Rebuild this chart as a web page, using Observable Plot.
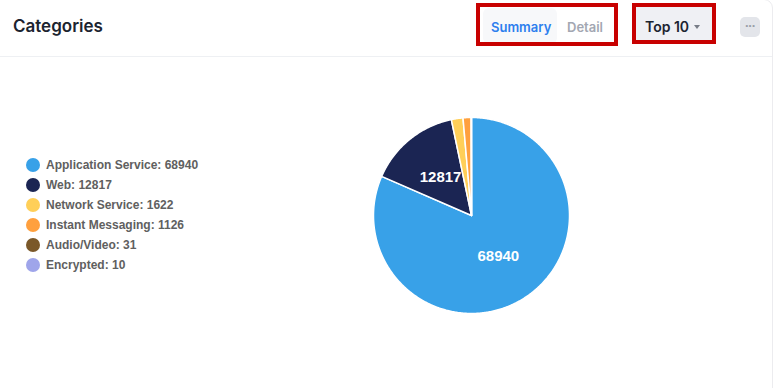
<!DOCTYPE html>
<html>
<head>
<meta charset="utf-8">
<script src="https://cdn.jsdelivr.net/npm/d3@7"></script>
<script src="https://cdn.jsdelivr.net/npm/@observablehq/plot@0.6"></script>
<style>
  html, body { margin: 0; padding: 0; background: #fff; width: 783px; height: 388px; overflow: hidden; }
  .card { position: absolute; left: -10px; top: -1px; width: 783px; height: 420px; border: 1px solid #ececef; border-radius: 9px; background: #fff; box-sizing: border-box; }
  .title { position: absolute; left: 13px; top: 16px; font: 600 17px Inter, sans-serif; color: #1c2430; }
  .hline { position: absolute; left: 0; top: 56px; width: 772px; height: 1px; background: #eef0f3; }
  .seg { position: absolute; left: 480px; top: 7px; width: 134px; height: 35px; background: #fff; }
  .seg .on { position: absolute; left: 3px; top: 1px; width: 74px; height: 36px; background: #f7f8fa; border-radius: 6px; }
  .seg span { position: absolute; top: 12px; font: 600 13px Inter, sans-serif; }
  .top10 { position: absolute; left: 634px; top: 5px; width: 80px; height: 38px; background: #eff0f4; }
  .top10 span { position: absolute; left: 11px; top: 13px; font: 600 14px Inter, sans-serif; color: #1c2430; }
  .caret { position: absolute; left: 60px; top: 20px; width: 0; height: 0; border-left: 3.5px solid transparent; border-right: 3.5px solid transparent; border-top: 4px solid #777c86; }
  .redbox { position: absolute; border: 4px solid #c80000; box-sizing: border-box; }
  .more { position: absolute; left: 740px; top: 17px; width: 20px; height: 20px; background: #e3e5ea; border-radius: 5px; color: #9a9fa8; font: 700 13px sans-serif; text-align: center; line-height: 18px; letter-spacing: -1px; }
  .legend { position: absolute; left: 26px; top: 155px; }
  .legend div { height: 20px; display: flex; align-items: center; font: bold 12px "Liberation Sans", Arial, sans-serif; color: #606060; }
  .legend i { display: inline-block; width: 14px; height: 14px; border-radius: 50%; margin-right: 6px; }
  #pie { position: absolute; left: 371px; top: 115px; }
</style>
</head>
<body>
<div class="card"></div>
<div class="title">Categories</div>
<div class="hline"></div>
<div class="seg"><div class="on"></div><span style="left:11px;color:#2d7fee">Summary</span><span style="left:87px;color:#a3a7b2">Detail</span></div>
<div class="redbox" style="left:476px;top:3px;width:142px;height:43px"></div>
<div class="top10"><span>Top 10</span><div class="caret"></div></div>
<div class="redbox" style="left:632px;top:3px;width:84px;height:41px"></div>
<div class="more">···</div>
<div class="legend" id="legend"></div>
<div id="pie"></div>
<script>
// Traffic categories and their session counts
const categories = ["Application Service", "Web", "Network Service", "Instant Messaging", "Audio/Video", "Encrypted"];
const counts = [68940, 12817, 1622, 1126, 31, 10];
const colors = ["#38a1e8", "#1b2553", "#ffcf58", "#ffa03e", "#7a5829", "#9fa5ea"];
// Only the two largest slices carry an inner value label
const labelled = ["Application Service", "Web"];

// Legend
const legend = document.getElementById("legend");
categories.forEach((c, i) => {
  const row = document.createElement("div");
  row.innerHTML = `<i style="background:${colors[i]}"></i>${c}: ${counts[i]}`;
  legend.appendChild(row);
});

// Slice geometry: angles run clockwise from 12 o'clock
const data = categories.map((c, i) => ({category: c, value: counts[i]}));
const arcs = d3.pie().sort(null).value(d => d.value)(data);
const outline = [];
const labels = [];
for (const a of arcs) {
  const c = a.data.category;
  const steps = Math.max(2, Math.ceil((a.endAngle - a.startAngle) / 0.01));
  outline.push({category: c, x: 0, y: 0});
  for (let k = 0; k <= steps; k++) {
    const t = a.startAngle + (a.endAngle - a.startAngle) * k / steps;
    outline.push({category: c, x: Math.sin(t), y: Math.cos(t)});
  }
  outline.push({category: c, x: 0, y: 0});
  if (labelled.includes(c)) {
    const m = (a.startAngle + a.endAngle) / 2;
    labels.push({category: c, value: a.data.value, x: 0.5 * Math.sin(m), y: 0.5 * Math.cos(m)});
  }
}

const chart = Plot.plot({
  width: 200,
  height: 200,
  margin: 2,
  x: {domain: [-1, 1], axis: null},
  y: {domain: [-1, 1], axis: null},
  color: {type: "ordinal", domain: categories, range: colors},
  marks: [
    Plot.line(outline, {x: "x", y: "y", z: "category", fill: "category", stroke: "#fff", strokeWidth: 1.5, strokeLinejoin: "round", curve: "linear"}),
    Plot.text(labels, {x: "x", y: "y", text: d => String(d.value), fill: "#fff", fontSize: 15, fontWeight: "bold", fontFamily: "Liberation Sans, Arial, sans-serif"})
  ]
});
document.getElementById("pie").appendChild(chart);
</script>
</body>
</html>
